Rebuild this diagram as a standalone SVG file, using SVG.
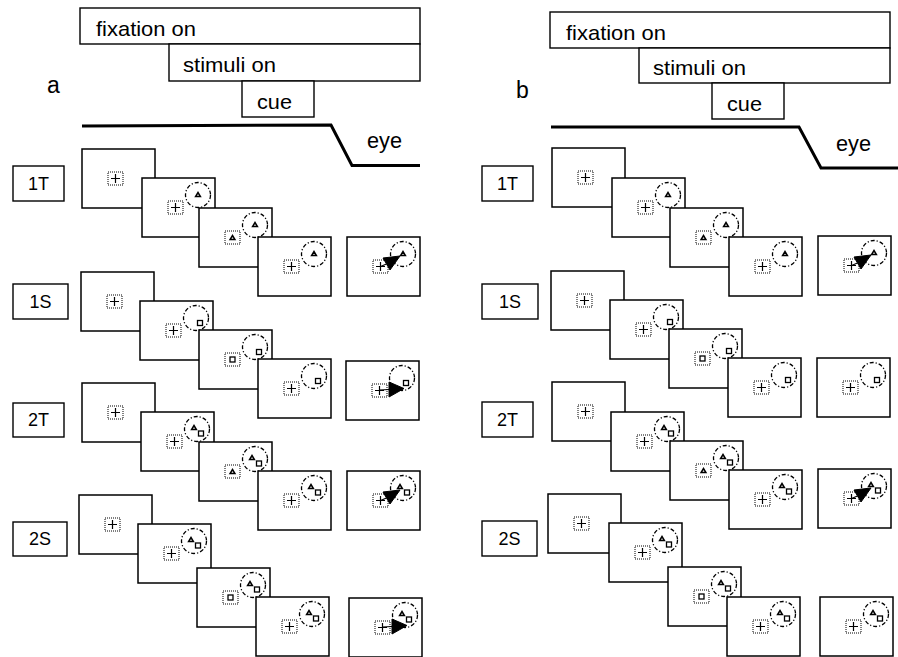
<svg xmlns="http://www.w3.org/2000/svg" xmlns:xlink="http://www.w3.org/1999/xlink" width="898" height="657" viewBox="0 0 898 657">
<style>
text{font-family:"Liberation Sans",Arial,sans-serif;fill:#000}
.hb{fill:#fff;stroke:#000;stroke-width:1.4}
.lb{fill:#fff;stroke:#000;stroke-width:1.4}
.ht{font-size:21px}
.lt{font-size:18px;text-anchor:middle}
.pl{font-size:23px}
.eyeline{fill:none;stroke:#000;stroke-width:3}
.scr{fill:#fff;stroke:#000;stroke-width:1.5}
.fix{fill:none;stroke:#000;stroke-width:1;stroke-dasharray:1 1}
.cr{fill:none;stroke:#000;stroke-width:1.2}
.circ{fill:none;stroke:#000;stroke-width:1.3;stroke-dasharray:4 2 1.2 2}
.tri{fill:#fff;stroke:#000;stroke-width:1.5;stroke-linejoin:miter}
.sq{fill:#fff;stroke:#000;stroke-width:1.3}
.arr{fill:#000;stroke:#000;stroke-width:1}
.sh{stroke:#000;stroke-width:1.2}
</style>
<defs>
<rect id="frame" class="scr" width="73" height="59"/>
<rect id="fx" class="fix" x="26" y="23" width="15" height="13"/>
<path id="cross" class="cr" d="M29,29.5h9M33.5,25v9"/>
<circle id="ring" class="circ" cx="56" cy="17" r="12.5"/>
<polygon id="triC" class="tri" points="53.6,18.5 58.4,18.5 56,14.5"/>
<rect id="sqC" class="sq" x="57.5" y="19.5" width="5" height="5"/>
<polygon id="tri2" class="tri" points="50.6,17.5 55.4,17.5 53,13.5"/>
<rect id="sq2" class="sq" x="57.5" y="19" width="5" height="5"/>
<polygon id="cueT" class="tri" points="31.1,31.5 35.9,31.5 33.5,27.5"/>
<rect id="cueS" class="sq" x="31" y="27" width="5" height="5"/>
<g id="arrT"><path class="sh" d="M33.5,29.5L39.5,27"/><polygon class="arr" points="36,21 53,19 43,33"/></g>
<g id="arrS"><path class="sh" d="M33.5,29L43,28.5"/><polygon class="arr" points="43,21 43,36 58,27.5"/></g>
<g id="s1"><use href="#frame"/><use href="#fx"/><use href="#cross"/></g>
<g id="s1T"><use href="#frame"/><use href="#fx"/><use href="#cross"/><use href="#ring"/><use href="#triC"/></g>
<g id="s1S"><use href="#frame"/><use href="#fx"/><use href="#cross"/><use href="#ring"/><use href="#sqC"/></g>
<g id="s2"><use href="#frame"/><use href="#fx"/><use href="#cross"/><use href="#ring"/><use href="#tri2"/><use href="#sq2"/></g>
<g id="c1T"><use href="#frame"/><use href="#fx"/><use href="#cueT"/><use href="#ring"/><use href="#triC"/></g>
<g id="c1S"><use href="#frame"/><use href="#fx"/><use href="#cueS"/><use href="#ring"/><use href="#sqC"/></g>
<g id="c2T"><use href="#frame"/><use href="#fx"/><use href="#cueT"/><use href="#ring"/><use href="#tri2"/><use href="#sq2"/></g>
<g id="c2S"><use href="#frame"/><use href="#fx"/><use href="#cueS"/><use href="#ring"/><use href="#tri2"/><use href="#sq2"/></g>
</defs>
<rect width="898" height="657" fill="#fff"/>

<!-- ===== Panel a ===== -->
<g id="a-header">
<text class="pl" x="47" y="93">a</text>
<g id="a-fixation"><rect class="hb" x="80" y="8" width="340" height="36"/><text class="ht" x="96" y="36" textLength="100" lengthAdjust="spacingAndGlyphs">fixation on</text></g>
<g id="a-stimuli"><rect class="hb" x="169" y="44" width="251" height="37"/><text class="ht" x="183" y="72" textLength="93" lengthAdjust="spacingAndGlyphs">stimuli on</text></g>
<g id="a-cue"><rect class="hb" x="242" y="81" width="72" height="36"/><text class="ht" x="257" y="109" textLength="35" lengthAdjust="spacingAndGlyphs">cue</text></g>
<g id="a-eye"><polyline class="eyeline" points="82,126 331,125 352,165.5 420,165.5"/><text class="ht" x="367" y="148" style="font-size:22px" textLength="35" lengthAdjust="spacingAndGlyphs">eye</text></g>
</g>

<g id="a-1T">
<rect class="lb" x="13" y="166" width="51" height="35"/><text class="lt" x="38.5" y="190">1T</text>
<use href="#s1" x="82" y="149"/>
<use href="#s1T" x="142" y="178"/>
<use href="#c1T" x="199" y="208"/>
<use href="#s1T" x="258" y="237"/>
<g transform="translate(347,237)"><use href="#s1T"/><use href="#arrT"/></g>
</g>

<g id="a-1S">
<rect class="lb" x="13" y="284" width="55" height="35"/><text class="lt" x="40.5" y="308">1S</text>
<use href="#s1" x="81" y="272"/>
<use href="#s1S" x="140" y="301"/>
<use href="#c1S" x="199" y="330"/>
<use href="#s1S" x="258" y="359"/>
<g transform="translate(346,361)"><use href="#s1S"/><use href="#arrS"/></g>
</g>

<g id="a-2T">
<rect class="lb" x="13" y="403" width="51" height="34"/><text class="lt" x="38.5" y="426">2T</text>
<use href="#s1" x="82" y="383"/>
<use href="#s2" x="141" y="412"/>
<use href="#c2T" x="199" y="442"/>
<use href="#s2" x="258" y="471"/>
<g transform="translate(347,471)"><use href="#s2"/><use href="#arrT"/></g>
</g>

<g id="a-2S">
<rect class="lb" x="13" y="522" width="54" height="34"/><text class="lt" x="40" y="545">2S</text>
<use href="#s1" x="79" y="495"/>
<use href="#s2" x="138" y="524"/>
<use href="#c2S" x="197" y="568"/>
<use href="#s2" x="256" y="597"/>
<g transform="translate(349,598)"><use href="#s2"/><use href="#arrS"/></g>
</g>

<!-- ===== Panel b ===== -->
<g id="b-header">
<text class="pl" x="516" y="98">b</text>
<g id="b-fixation"><rect class="hb" x="550" y="12" width="340" height="36"/><text class="ht" x="566" y="40" textLength="100" lengthAdjust="spacingAndGlyphs">fixation on</text></g>
<g id="b-stimuli"><rect class="hb" x="639" y="48" width="251" height="35"/><text class="ht" x="653" y="75" textLength="93" lengthAdjust="spacingAndGlyphs">stimuli on</text></g>
<g id="b-cue"><rect class="hb" x="712" y="83" width="72" height="36"/><text class="ht" x="727" y="111" textLength="35" lengthAdjust="spacingAndGlyphs">cue</text></g>
<g id="b-eye"><polyline class="eyeline" points="551,127 799,127 821,168 898,168"/><text class="ht" x="836" y="151" style="font-size:22px" textLength="35" lengthAdjust="spacingAndGlyphs">eye</text></g>
</g>

<g id="b-1T">
<rect class="lb" x="482" y="166" width="51" height="35"/><text class="lt" x="507.5" y="190">1T</text>
<use href="#s1" x="552" y="148"/>
<use href="#s1T" x="612" y="178"/>
<use href="#c1T" x="670" y="208"/>
<use href="#s1T" x="729" y="237"/>
<g transform="translate(818,236)"><use href="#s1T"/><use href="#arrT"/></g>
</g>

<g id="b-1S">
<rect class="lb" x="482" y="284" width="56" height="35"/><text class="lt" x="510" y="308">1S</text>
<use href="#s1" x="551" y="271"/>
<use href="#s1S" x="610" y="300"/>
<use href="#c1S" x="669" y="329"/>
<use href="#s1S" x="728" y="358"/>
<use href="#s1S" x="817" y="358"/>
</g>

<g id="b-2T">
<rect class="lb" x="482" y="402" width="51" height="35"/><text class="lt" x="507.5" y="426">2T</text>
<use href="#s1" x="552" y="382"/>
<use href="#s2" x="611" y="412"/>
<use href="#c2T" x="670" y="441"/>
<use href="#s2" x="729" y="470"/>
<g transform="translate(818,469)"><use href="#s2"/><use href="#arrT"/></g>
</g>

<g id="b-2S">
<rect class="lb" x="482" y="521" width="55" height="35"/><text class="lt" x="509.5" y="545">2S</text>
<use href="#s1" x="548" y="494"/>
<use href="#s2" x="609" y="523"/>
<use href="#c2S" x="668" y="567"/>
<use href="#s2" x="727" y="597"/>
<use href="#s2" x="820" y="597"/>
</g>
</svg>
